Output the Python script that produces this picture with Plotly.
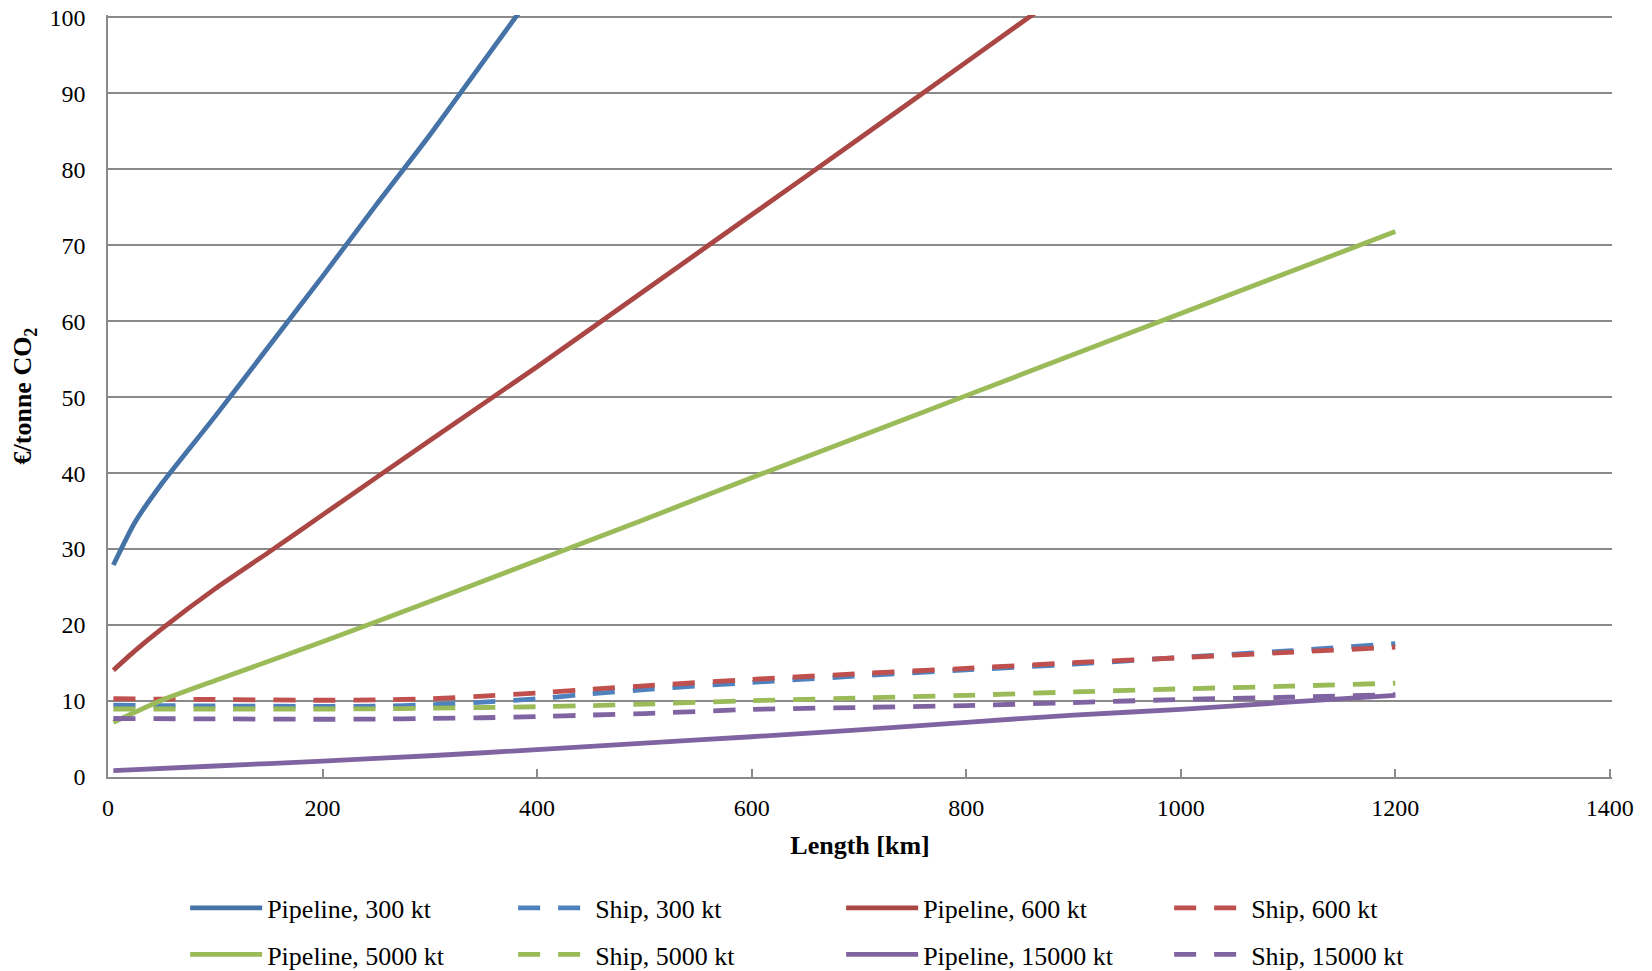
import plotly.graph_objects as go

# ---- data ----
km_pipe_300 = [5, 25, 50, 100, 150, 200, 250, 300, 350, 400]
pipe_300 = [27.9, 33.5, 38.6, 47.5, 56.7, 65.9, 75.3, 84.5, 94.2, 103.9]

km_pipe_600 = [5, 25, 50, 100, 150, 200, 300, 400, 500, 600, 700, 800, 900]
pipe_600 = [14.05, 16.6, 19.5, 24.8, 29.6, 34.5, 44.3, 54.0, 64.0, 74.0, 84.0, 94.1, 104.2]

km_pipe_5000 = [5, 50, 100, 200, 300, 400, 500, 600, 700, 800, 900, 1000, 1100, 1200]
pipe_5000 = [7.2, 10.1, 12.7, 17.8, 23.1, 28.5, 33.9, 39.4, 44.8, 50.2, 55.6, 61.0, 66.4, 71.8]

km_pipe_15000 = [5, 100, 200, 300, 400, 500, 600, 700, 800, 900, 1000, 1100, 1200]
pipe_15000 = [0.85, 1.45, 2.1, 2.8, 3.6, 4.45, 5.3, 6.2, 7.2, 8.15, 8.9, 9.85, 10.75]

km_ship = [5, 100, 200, 250, 300, 350, 400, 450, 500, 600, 700, 800, 900, 1000, 1100, 1200]
ship_300 = [9.45, 9.35, 9.3, 9.32, 9.5, 9.85, 10.3, 10.95, 11.5, 12.45, 13.3, 14.1, 14.85, 15.75, 16.6, 17.55]
ship_600 = [10.3, 10.2, 10.1, 10.15, 10.3, 10.65, 11.05, 11.55, 12.0, 12.85, 13.6, 14.3, 15.05, 15.7, 16.4, 17.1]
ship_5000 = [8.95, 8.95, 8.95, 8.97, 9.05, 9.15, 9.25, 9.4, 9.6, 10.05, 10.4, 10.75, 11.2, 11.6, 11.95, 12.35]
ship_15000 = [7.7, 7.65, 7.6, 7.62, 7.7, 7.8, 7.95, 8.15, 8.35, 8.9, 9.15, 9.4, 9.8, 10.2, 10.5, 10.85]

x_ticks = [0, 200, 400, 600, 800, 1000, 1200, 1400]
y_ticks = [0, 10, 20, 30, 40, 50, 60, 70, 80, 90, 100]

FONT = "Liberation Serif"
GRID = "#8a8a8a"
LW = 4.8
DASH = "22px,18px"

series = [
    ("Pipeline, 300 kt", km_pipe_300, pipe_300, "#4572A7", "solid", "legend"),
    ("Ship, 300 kt", km_ship, ship_300, "#4F81BD", DASH, "legend"),
    ("Pipeline, 600 kt", km_pipe_600, pipe_600, "#AA4643", "solid", "legend"),
    ("Ship, 600 kt", km_ship, ship_600, "#C0504D", DASH, "legend"),
    ("Pipeline, 5000 kt", km_pipe_5000, pipe_5000, "#9BBB59", "solid", "legend2"),
    ("Ship, 5000 kt", km_ship, ship_5000, "#9BBB59", DASH, "legend2"),
    ("Pipeline, 15000 kt", km_pipe_15000, pipe_15000, "#8064A2", "solid", "legend2"),
    ("Ship, 15000 kt", km_ship, ship_15000, "#8064A2", DASH, "legend2"),
]

fig = go.Figure()
for name, xs, ys, color, dash, leg in series:
    fig.add_trace(go.Scatter(
        x=xs, y=ys, mode="lines", name=name, legend=leg,
        line=dict(color=color, width=LW, dash=dash, shape="spline", smoothing=0.6),
        cliponaxis=True,
    ))

legend_common = dict(
    orientation="h", xanchor="left",
    font=dict(family=FONT, size=26, color="#000000"),
    entrywidth=241, entrywidthmode="pixels",
    bgcolor="rgba(0,0,0,0)", itemwidth=72, traceorder="normal",
)

# plot area: x 108..1612 px, y 15..777 px; ranges padded slightly so the
# 100 gridline and the 1400 tick are not dropped at the plot edges
PLOT_H = 762
fig.update_layout(
    width=1652, height=971,
    margin=dict(l=108, r=40, t=15, b=194, autoexpand=False),
    paper_bgcolor="white", plot_bgcolor="white",
    font=dict(family=FONT, size=24, color="#000000"),
    showlegend=True,
    legend=dict(x=0.0513, y=1 - (908 - 15) / PLOT_H, yanchor="middle", **legend_common),
    legend2=dict(x=0.0513, y=1 - (978 - 15) / PLOT_H, yanchor="bottom", **legend_common),
    xaxis=dict(
        range=[0, 1402], tickvals=x_ticks, ticktext=[str(v) for v in x_ticks],
        showgrid=False, zeroline=False,
        showline=True, linecolor=GRID, linewidth=1.6,
        ticks="inside", ticklen=8, tickwidth=1.6, tickcolor=GRID,
        ticklabelstandoff=8, ticklabeloverflow="allow",
        tickfont=dict(family=FONT, size=24, color="#000000"),
        title=dict(text="<b>Length [km]</b>", font=dict(family=FONT, size=26), standoff=16),
        fixedrange=True,
    ),
    yaxis=dict(
        range=[0, 100.3], tickvals=y_ticks, ticktext=[str(v) for v in y_ticks],
        showgrid=True, gridcolor=GRID, gridwidth=1.6, zeroline=False,
        showline=True, linecolor=GRID, linewidth=1.6,
        ticks="", ticklabelstandoff=16, ticklabeloverflow="allow",
        tickfont=dict(family=FONT, size=24, color="#000000"),
        title=dict(text="<b>€/tonne CO<sub>2</sub></b>", font=dict(family=FONT, size=26), standoff=10),
        fixedrange=True,
    ),
)

# remove the default 8px page margin so the figure fills the window exactly
fig.write_html("out.html", config={"displayModeBar": False},
               post_script="document.body.style.margin='0px';")
